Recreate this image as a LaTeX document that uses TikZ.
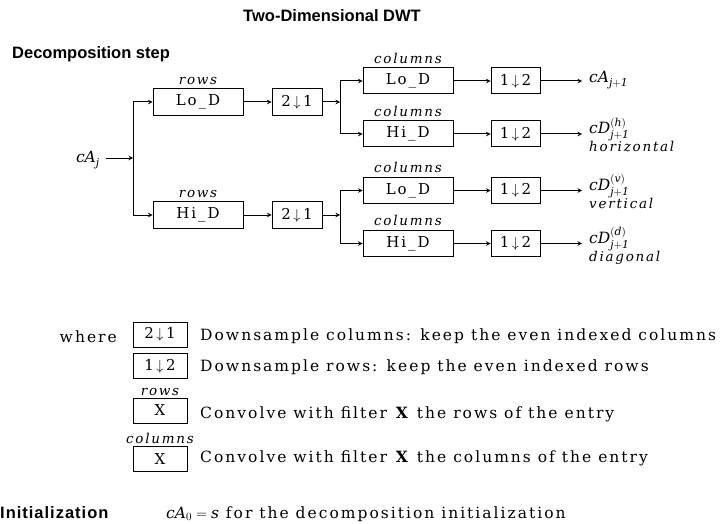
\documentclass[tikz,border=0pt]{standalone}
\usepackage{fontspec}
\setmainfont{DejaVu Serif}[LetterSpace=13]
\newfontfamily\headfont{Liberation Sans}
\usetikzlibrary{arrows, positioning}

\tikzstyle{filter} = [
    rectangle,
    minimum width=90pt,
    minimum height=27pt,
    inner sep=0pt,
    line width=1pt,
    draw=black,
    font=\fontsize{15}{17}\selectfont
]
\tikzstyle{sampler} = [
    rectangle,
    minimum width=50pt,
    minimum height=27pt,
    inner sep=0pt,
    line width=1pt,
    draw=black,
    font=\fontsize{15}{17}\selectfont
]
\tikzstyle{keybox} = [
    rectangle,
    minimum width=54pt,
    minimum height=25pt,
    inner sep=0pt,
    line width=1pt,
    draw=black,
    font=\fontsize{15}{17}\selectfont
]
\tikzstyle{txt} = [inner sep=0pt, font=\fontsize{15.5}{17}\selectfont]
\tikzstyle{tag} = [inner sep=0pt, font=\fontsize{13.5}{15}\selectfont\itshape]
\tikzstyle{heading} = [inner sep=0pt, font=\headfont\bfseries\fontsize{16.5}{18}\selectfont]
\tikzstyle{wire} = [line width=1pt]
\tikzstyle{arrow} = [line width=1pt,->,>=stealth]

\begin{document}
\begin{tikzpicture}[x=1pt, y=-1pt]
\useasboundingbox (0,0) rectangle (720,524);

\node (title) [heading, anchor=base] at (332,21.5) {Two-Dimensional DWT};
\node (decomp) [heading, anchor=base west] at (12,59) {Decomposition step};

% input
\node (cAj) [txt, anchor=base east] at (100,163) {$\mathit{cA}_{\mathit{j}}$};
\coordinate (fork) at (133,158);
\coordinate (forkTop) at (133,102);
\coordinate (forkBot) at (133,215);

% rows
\node (loRow) [filter, label={[tag, yshift=3pt]above:rows}] at (198,102) {Lo\_D};
\node (hiRow) [filter, label={[tag, yshift=3pt]above:rows}] at (198,215) {Hi\_D};
\node (dsTop) [sampler] at (297,102) {2\,$\downarrow$\,1};
\node (dsBot) [sampler] at (297,215) {2\,$\downarrow$\,1};

\coordinate (splitTop) at (340,102);
\coordinate (splitTopA) at (340,81);
\coordinate (splitTopB) at (340,134);
\coordinate (splitBot) at (340,215);
\coordinate (splitBotA) at (340,190.5);
\coordinate (splitBotB) at (340,243.5);

% columns
\node (loColA) [filter, minimum height=26pt, label={[tag, yshift=4pt]above:columns}] at (408,81) {Lo\_D};
\node (hiColA) [filter, minimum height=26pt, label={[tag, yshift=4pt]above:columns}] at (408,134) {Hi\_D};
\node (loColB) [filter, minimum height=26pt, label={[tag, yshift=4pt]above:columns}] at (408,190.5) {Lo\_D};
\node (hiColB) [filter, minimum height=26pt, label={[tag, yshift=4pt]above:columns}] at (408,243.5) {Hi\_D};

\node (dsA) [sampler, minimum width=49pt, minimum height=26pt] at (515.5,81) {1\,$\downarrow$\,2};
\node (dsB) [sampler, minimum width=49pt, minimum height=26pt] at (515.5,134) {1\,$\downarrow$\,2};
\node (dsC) [sampler, minimum width=49pt, minimum height=26pt] at (515.5,190.5) {1\,$\downarrow$\,2};
\node (dsD) [sampler, minimum width=49pt, minimum height=26pt] at (515.5,243.5) {1\,$\downarrow$\,2};

% outputs
\node (cA1) [txt, anchor=base west] at (589,83) {$\mathit{cA}_{\mathit{j+1}}$};
\node (cDh) [txt, anchor=base west] at (589,134) {$\mathit{cD}^{(\mathit{h})}_{\mathit{j+1}}$};
\node (hor) [tag, anchor=base west] at (589,151.5) {horizontal};
\node (cDv) [txt, anchor=base west] at (589,190.5) {$\mathit{cD}^{(\mathit{v})}_{\mathit{j+1}}$};
\node (ver) [tag, anchor=base west] at (589,208) {vertical};
\node (cDd) [txt, anchor=base west] at (589,243.5) {$\mathit{cD}^{(\mathit{d})}_{\mathit{j+1}}$};
\node (dia) [tag, anchor=base west] at (589,261) {diagonal};

\draw [arrow, shorten <=6pt] (cAj.east |- fork) -- (fork);
\draw [wire] (forkTop) -- (forkBot);
\draw [arrow] (forkTop) -- (loRow);
\draw [arrow] (forkBot) -- (hiRow);
\draw [arrow] (loRow) -- (dsTop);
\draw [arrow] (hiRow) -- (dsBot);
\draw [arrow] (dsTop) -- (splitTop);
\draw [arrow] (dsBot) -- (splitBot);
\draw [wire] (splitTopA) -- (splitTopB);
\draw [wire] (splitBotA) -- (splitBotB);
\draw [arrow] (splitTopA) -- (loColA);
\draw [arrow] (splitTopB) -- (hiColA);
\draw [arrow] (splitBotA) -- (loColB);
\draw [arrow] (splitBotB) -- (hiColB);
\draw [arrow] (loColA) -- (dsA);
\draw [arrow] (hiColA) -- (dsB);
\draw [arrow] (loColB) -- (dsC);
\draw [arrow] (hiColB) -- (dsD);
\draw [arrow, shorten >=7pt] (dsA) -- (dsA -| cA1.west);
\draw [arrow, shorten >=7pt] (dsB) -- (dsB -| cDh.west);
\draw [arrow, shorten >=7pt] (dsC) -- (dsC -| cDv.west);
\draw [arrow, shorten >=7pt] (dsD) -- (dsD -| cDd.west);

% legend
\node (where) [txt, anchor=base east] at (117,342) {where};
\node (keyCol) [keybox] at (160,334.5) {2\,$\downarrow$\,1};
\node (keyRow) [keybox] at (160,366) {1\,$\downarrow$\,2};
\node (keyX1) [keybox, label={[tag, yshift=2pt]above:rows}] at (160,410.5) {X};
\node (keyX2) [keybox, label={[tag, yshift=2pt]above:columns}] at (160,459) {X};
\node (keyColTxt) [txt, anchor=base west] at (200,340) {Downsample columns: keep the even indexed columns};
\node (keyRowTxt) [txt, anchor=base west] at (200,371.5) {Downsample rows: keep the even indexed rows};
\node (keyX1Txt) [txt, anchor=base west] at (200,418) {Convolve with filter \textbf{X} the rows of the entry};
\node (keyX2Txt) [txt, anchor=base west] at (200,462) {Convolve with filter \textbf{X} the columns of the entry};

% initialization
\node (init) [inner sep=0pt, font=\headfont\bfseries\fontsize{16.5}{18}\selectfont\addfontfeatures{LetterSpace=6}, anchor=base west] at (0,518) {Initialization};
\node (initTxt) [txt, anchor=base west] at (166,518) {$\mathit{cA}_0 = \mathit{s}$ for the decomposition initialization};

\end{tikzpicture}
\end{document}
